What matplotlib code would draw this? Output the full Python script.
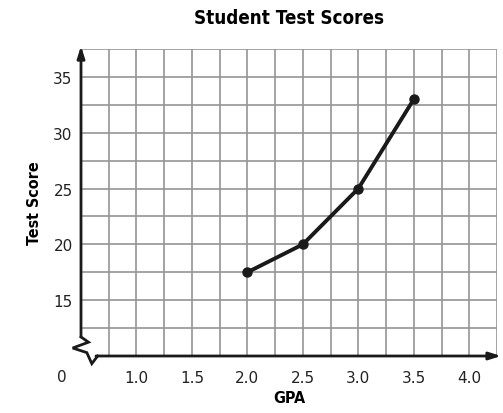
import matplotlib
matplotlib.use("Agg")
import matplotlib.pyplot as plt
import numpy as np
from matplotlib.lines import Line2D

gpa = [2.0, 2.5, 3.0, 3.5]
scores = [17.5, 20, 25, 33]
x_ticks = [1.0, 1.5, 2.0, 2.5, 3.0, 3.5, 4.0]
y_ticks = [15, 20, 25, 30, 35]
title = "Student Test Scores"
xlabel = "GPA"
ylabel = "Test Score"

fig = plt.figure(figsize=(5.03, 4.14), dpi=100)
ax = fig.add_axes([81/503, 57/414, 416/503, 307/414])
ax.set_xlim(0.5, 4.25)
ax.set_ylim(10, 37.5)

# grid
ax.set_xticks(np.arange(0.75, 4.26, 0.25), minor=True)
ax.set_yticks(np.arange(12.5, 37.6, 2.5), minor=True)
ax.set_xticks(x_ticks)
ax.set_yticks(y_ticks)
ax.grid(which='both', color='#959595', linewidth=1.2)
ax.set_xticklabels([f"{v:.1f}" for v in x_ticks])
ax.set_yticklabels([str(v) for v in y_ticks])
ax.tick_params(which='both', length=0, labelsize=11, colors='#222222')
ax.tick_params(axis='x', pad=10)
ax.tick_params(axis='y', pad=6)
for s in ax.spines.values():
    s.set_visible(False)
ax.set_axisbelow(True)

# data line
ax.plot(gpa, scores, color='#1a1a1a', linewidth=2.8, marker='o', markersize=6.5,
        zorder=5, clip_on=False)

# axes lines with arrows
ax.annotate('', xy=(0, 1.01), xytext=(0, 0.062), xycoords='axes fraction',
            arrowprops=dict(arrowstyle='-|>,head_length=0.7,head_width=0.22',
                            color='#1a1a1a', lw=2, shrinkA=0, shrinkB=0))
ax.annotate('', xy=(1.01, 0), xytext=(0.036, 0), xycoords='axes fraction',
            arrowprops=dict(arrowstyle='-|>,head_length=0.7,head_width=0.22',
                            color='#1a1a1a', lw=2, shrinkA=0, shrinkB=0))
zx = [0, 0.018, -0.02, 0.014, 0.026, 0.04, 0.04]
zy = [0.062, 0.045, 0.026, 0.011, -0.025, 0.0, 0.0]
ax.add_line(Line2D(zx, zy, transform=ax.transAxes, color='#1a1a1a', lw=2,
                   clip_on=False, solid_joinstyle='miter'))

ax.text(-0.047, -0.068, "0", transform=ax.transAxes, ha='center', va='center',
        fontsize=11, color='#222222')

ax.set_xlabel(xlabel, fontsize=11.5, fontweight='bold', fontstretch='condensed', labelpad=4)
ax.set_ylabel(ylabel, fontsize=11.5, fontweight='bold', fontstretch='condensed', labelpad=8)
fig.text(289/503, 1 - 18/414, title, ha='center', va='center', fontsize=13.5,
         fontweight='bold', fontstretch='condensed')

fig.savefig('out.png', dpi=100)
